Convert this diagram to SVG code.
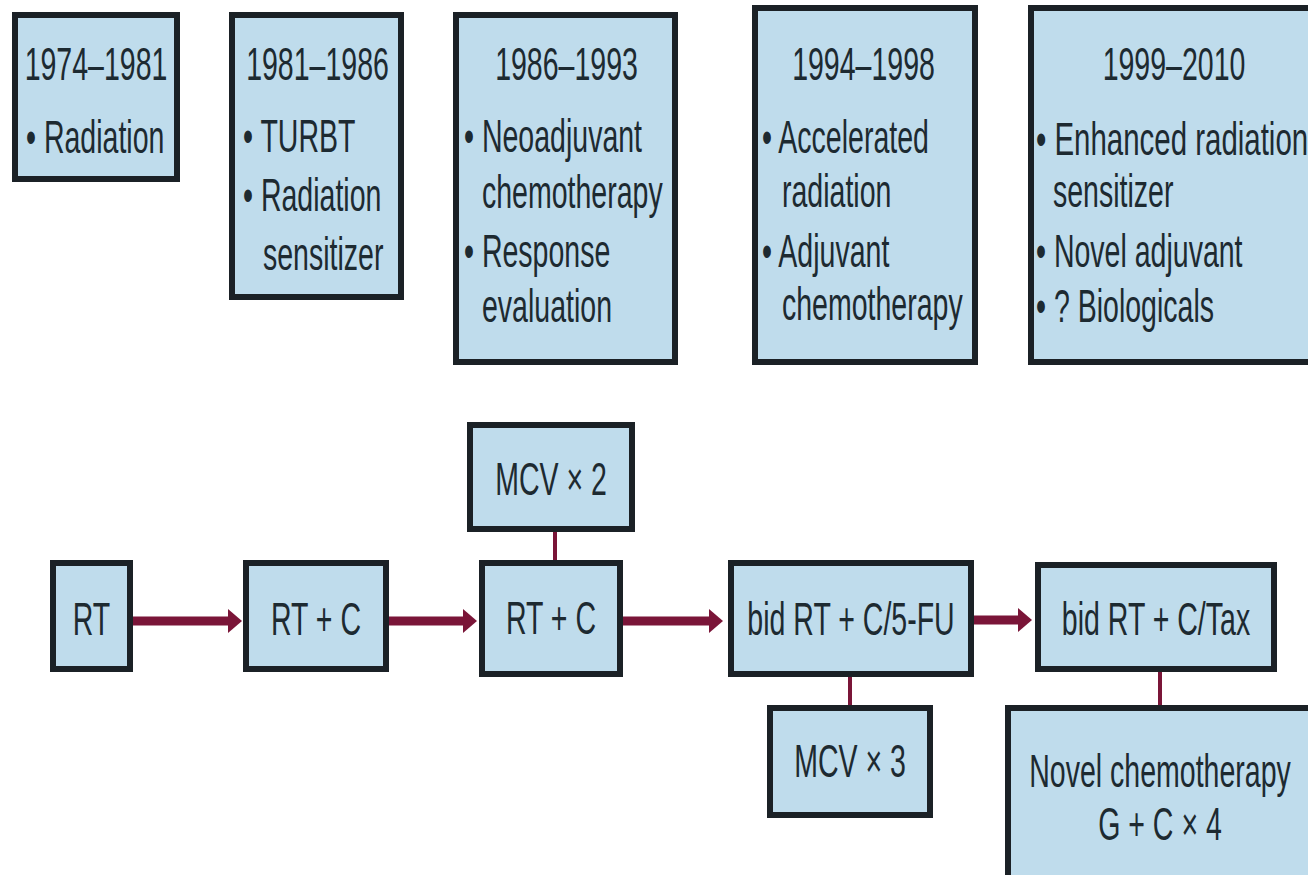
<svg xmlns="http://www.w3.org/2000/svg" width="1308" height="875" viewBox="0 0 1308 875">
<defs>
<style>
.box{fill:#bfdcec;stroke:#1b2126;stroke-width:6}
.t{font-family:"Liberation Sans",Arial,sans-serif;font-size:46px;fill:#1d2a31}
.m{text-anchor:middle}
.arrow{stroke:#7a1538;stroke-width:9;fill:none}
.link{stroke:#7a1538;stroke-width:4;fill:none}
</style>
<marker id="ah" markerUnits="userSpaceOnUse" viewBox="0 0 14 24" markerWidth="14" markerHeight="24" refX="3" refY="12" orient="auto">
<path d="M0,0 L14,12 L0,24 Z" fill="#7a1538"/>
</marker>
</defs>
<rect width="1308" height="875" fill="#ffffff"/>

<g id="connectors">
<line class="arrow" x1="133" y1="621" x2="231" y2="621" marker-end="url(#ah)"/>
<line class="arrow" x1="389" y1="621" x2="466" y2="621" marker-end="url(#ah)"/>
<line class="arrow" x1="623" y1="621" x2="712" y2="621" marker-end="url(#ah)"/>
<line class="arrow" x1="974" y1="620" x2="1021" y2="620" marker-end="url(#ah)"/>
<line class="link" x1="555" y1="530" x2="555" y2="562"/>
<line class="link" x1="850" y1="675" x2="850" y2="707"/>
<line class="link" x1="1160" y1="670" x2="1160" y2="707"/>
</g>

<g id="era1974">
<rect class="box" x="15" y="15" width="162" height="164"/>
<text class="t m" transform="translate(96,80) scale(0.62 1)">1974–1981</text>
<text class="t" transform="translate(26,153) scale(0.62 1)">• Radiation</text>
</g>

<g id="era1981">
<rect class="box" x="232" y="15" width="169" height="282"/>
<text class="t m" transform="translate(317.5,80) scale(0.62 1)">1981–1986</text>
<text class="t" transform="translate(243,152) scale(0.62 1)">• TURBT</text>
<text class="t" transform="translate(243,211) scale(0.62 1)">• Radiation</text>
<text class="t" transform="translate(263,270) scale(0.62 1)">sensitizer</text>
</g>

<g id="era1986">
<rect class="box" x="456" y="15" width="219" height="347"/>
<text class="t m" transform="translate(566.5,80) scale(0.62 1)">1986–1993</text>
<text class="t" transform="translate(464,152) scale(0.62 1)">• Neoadjuvant</text>
<text class="t" transform="translate(482,208) scale(0.62 1)">chemotherapy</text>
<text class="t" transform="translate(464,267) scale(0.62 1)">• Response</text>
<text class="t" transform="translate(482,322) scale(0.62 1)">evaluation</text>
</g>

<g id="era1994">
<rect class="box" x="755" y="8" width="220" height="354"/>
<text class="t m" transform="translate(863.5,80) scale(0.62 1)">1994–1998</text>
<text class="t" transform="translate(762,153) scale(0.62 1)">• Accelerated</text>
<text class="t" transform="translate(782,207) scale(0.62 1)">radiation</text>
<text class="t" transform="translate(762,267) scale(0.62 1)">• Adjuvant</text>
<text class="t" transform="translate(782,320) scale(0.62 1)">chemotherapy</text>
</g>

<g id="era1999">
<rect class="box" x="1031" y="8" width="290" height="354"/>
<text class="t m" transform="translate(1174,80) scale(0.62 1)">1999–2010</text>
<text class="t" transform="translate(1036,155) scale(0.64 1)">• Enhanced radiation</text>
<text class="t" transform="translate(1053,207) scale(0.62 1)">sensitizer</text>
<text class="t" transform="translate(1036,267) scale(0.62 1)">• Novel adjuvant</text>
<text class="t" transform="translate(1036,322) scale(0.62 1)">• ? Biologicals</text>
</g>

<g id="rt">
<rect class="box" x="53" y="563" width="77" height="106"/>
<text class="t m" transform="translate(91.5,635) scale(0.62 1)">RT</text>
</g>

<g id="rtc1">
<rect class="box" x="246" y="563" width="140" height="106"/>
<text class="t m" transform="translate(316,635) scale(0.62 1)">RT + C</text>
</g>

<g id="rtc2">
<rect class="box" x="482" y="563" width="138" height="111"/>
<text class="t m" transform="translate(551,634) scale(0.62 1)">RT + C</text>
</g>

<g id="mcv2">
<rect class="box" x="470" y="425" width="162" height="104"/>
<text class="t m" transform="translate(551,495) scale(0.62 1)">MCV × 2</text>
</g>

<g id="bid5fu">
<rect class="box" x="731" y="563" width="240" height="111"/>
<text class="t m" transform="translate(851,635) scale(0.62 1)">bid RT + C/5-FU</text>
</g>

<g id="bidtax">
<rect class="box" x="1038" y="565" width="236" height="104"/>
<text class="t m" transform="translate(1156,635) scale(0.62 1)">bid RT + C/Tax</text>
</g>

<g id="mcv3">
<rect class="box" x="770" y="708" width="160" height="107"/>
<text class="t m" transform="translate(850,777) scale(0.62 1)">MCV × 3</text>
</g>

<g id="novel">
<rect class="box" x="1008" y="708" width="320" height="190"/>
<text class="t m" transform="translate(1160,787) scale(0.62 1)">Novel chemotherapy</text>
<text class="t m" transform="translate(1160,840) scale(0.62 1)">G + C × 4</text>
</g>
</svg>
